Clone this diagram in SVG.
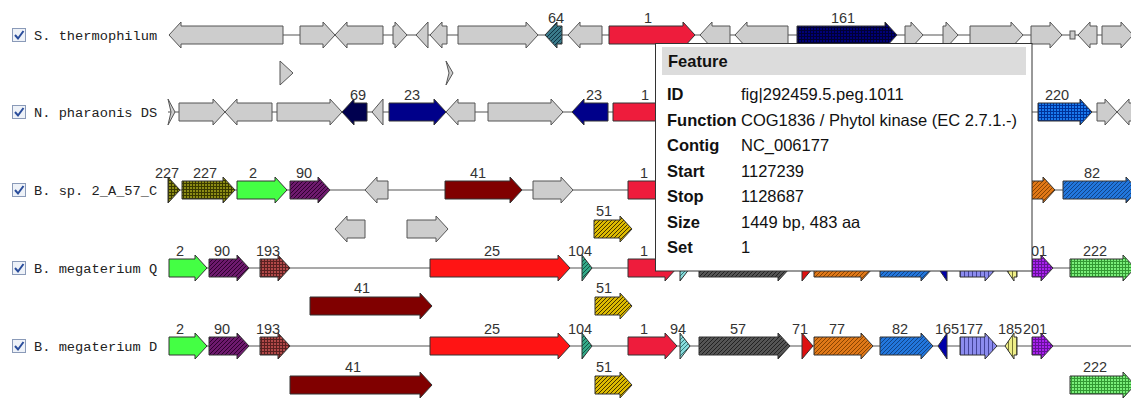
<svg xmlns="http://www.w3.org/2000/svg" width="1131" height="411" viewBox="0 0 1131 411">
<style>
.bg{fill:#fff}
.ln{stroke:#555;stroke-width:1.2;fill:none}
polygon,.box{stroke:#333;stroke-width:1;stroke-linejoin:miter}
.g{fill:#cdcdcd;stroke:#555}
.green{fill:#44ff44}
.dred{fill:#800000}
.red{fill:#ff1414}
.crim{fill:#ee1c3c}
.r71{fill:#dd1010}
.n165{fill:#0000aa}
.n69{fill:#00004f}
.n23{fill:#00008a}
.lab{font-family:"Liberation Sans",Arial,sans-serif;font-size:14.5px;fill:#333;text-anchor:middle}
.row{font-family:"Liberation Mono","DejaVu Sans Mono",monospace;font-size:13.7px;fill:#222}
.tt{font-family:"Liberation Sans",Arial,sans-serif;font-size:16.5px;fill:#111}
.ttb{font-weight:bold}
.cb{fill:#eef2f8;stroke:#8a9ab8;stroke-width:1}
.ck{fill:none;stroke:#2a4d9b;stroke-width:2}
</style>
<defs>
<pattern id="p227" patternUnits="userSpaceOnUse" width="3" height="3"><rect width="3" height="3" fill="#8c8c14"/><path d="M0,0.5H3M0.5,0V3" stroke="#3a3a00" stroke-width="1"/></pattern>
<pattern id="p90" patternUnits="userSpaceOnUse" width="4" height="4"><rect width="4" height="4" fill="#6e1a6e"/><path d="M-1,1L1,-1M0,4L4,0M3,5L5,3" stroke="#2e002e" stroke-width="1"/></pattern>
<pattern id="p193" patternUnits="userSpaceOnUse" width="3" height="3"><rect width="3" height="3" fill="#b04848"/><path d="M0,0.5H3M0.5,0V3" stroke="#5a2020" stroke-width="1"/></pattern>
<pattern id="p104" patternUnits="userSpaceOnUse" width="4" height="4"><rect width="4" height="4" fill="#33aa88"/><path d="M-1,1L1,-1M0,4L4,0M3,5L5,3" stroke="#115544" stroke-width="1"/></pattern>
<pattern id="p94" patternUnits="userSpaceOnUse" width="4" height="4"><rect width="4" height="4" fill="#88dddd"/><path d="M-1,1L1,-1M0,4L4,0M3,5L5,3" stroke="#337777" stroke-width="1"/></pattern>
<pattern id="p57" patternUnits="userSpaceOnUse" width="4" height="4"><rect width="4" height="4" fill="#555"/><path d="M-1,1L1,-1M0,4L4,0M3,5L5,3" stroke="#222" stroke-width="1"/></pattern>
<pattern id="p77" patternUnits="userSpaceOnUse" width="4" height="4"><rect width="4" height="4" fill="#e07818"/><path d="M-1,1L1,-1M0,4L4,0M3,5L5,3" stroke="#8a4400" stroke-width="1"/></pattern>
<pattern id="p82" patternUnits="userSpaceOnUse" width="4" height="4"><rect width="4" height="4" fill="#2277dd"/><path d="M-1,1L1,-1M0,4L4,0M3,5L5,3" stroke="#114488" stroke-width="1"/></pattern>
<pattern id="p177" patternUnits="userSpaceOnUse" width="4" height="4"><rect width="4" height="4" fill="#8c8cee"/><path d="M0.5,0V4" stroke="#444499" stroke-width="1"/></pattern>
<pattern id="p185" patternUnits="userSpaceOnUse" width="4" height="4"><rect width="4" height="4" fill="#eeee88"/><path d="M0.5,0V4" stroke="#777733" stroke-width="1"/></pattern>
<pattern id="p201" patternUnits="userSpaceOnUse" width="3" height="3"><rect width="3" height="3" fill="#aa22ee"/><path d="M0,0.5H3M0.5,0V3" stroke="#661199" stroke-width="1"/></pattern>
<pattern id="p222" patternUnits="userSpaceOnUse" width="3" height="3"><rect width="3" height="3" fill="#7aee7a"/><path d="M0,0.5H3M0.5,0V3" stroke="#339933" stroke-width="1"/></pattern>
<pattern id="p51" patternUnits="userSpaceOnUse" width="4" height="4"><rect width="4" height="4" fill="#ddbb00"/><path d="M-1,1L1,-1M0,4L4,0M3,5L5,3" stroke="#443300" stroke-width="1"/></pattern>
<pattern id="p161" patternUnits="userSpaceOnUse" width="3" height="3"><rect width="3" height="3" fill="#000077"/><path d="M0,0.5H3M0.5,0V3" stroke="#000033" stroke-width="1"/></pattern>
<pattern id="p220" patternUnits="userSpaceOnUse" width="3" height="3"><rect width="3" height="3" fill="#1a7aee"/><path d="M0,0.5H3M0.5,0V3" stroke="#003399" stroke-width="1"/></pattern>
<pattern id="p64" patternUnits="userSpaceOnUse" width="4" height="4"><rect width="4" height="4" fill="#3a7a8a"/><path d="M-1,1L1,-1M0,4L4,0M3,5L5,3" stroke="#113344" stroke-width="1"/></pattern>
</defs>
<rect class="bg" width="1131" height="411"/>

<g id="connectors">
<path class="ln" d="M169,35H1131M168,112H1131M168,190H1131M169,268H1131M169,346H1131"/>
</g>

<g id="labels">
<rect class="cb" x="12.5" y="28.5" width="13" height="13"/><path class="ck" d="M15,35l3,3.5l5.5,-7.5"/>
<text class="row" x="34" y="40">S. thermophilum</text>
<rect class="cb" x="12.5" y="105.5" width="13" height="13"/><path class="ck" d="M15,112l3,3.5l5.5,-7.5"/>
<text class="row" x="34" y="117">N. pharaonis DS</text>
<rect class="cb" x="12.5" y="183.5" width="13" height="13"/><path class="ck" d="M15,190l3,3.5l5.5,-7.5"/>
<text class="row" x="34" y="195">B. sp. 2_A_57_C</text>
<rect class="cb" x="12.5" y="261.5" width="13" height="13"/><path class="ck" d="M15,268l3,3.5l5.5,-7.5"/>
<text class="row" x="34" y="273">B. megaterium Q</text>
<rect class="cb" x="12.5" y="339.5" width="13" height="13"/><path class="ck" d="M15,346l3,3.5l5.5,-7.5"/>
<text class="row" x="34" y="351">B. megaterium D</text>
</g>

<g id="row1">
<polygon class="g" points="169,35 181,22 181,26 283,26 283,44 181,44 181,48"/>
<polygon class="g" points="300,26 323,26 323,22 335,35 323,48 323,44 300,44"/>
<polygon class="g" points="335,35 347,22 347,26 383,26 383,44 347,44 347,48"/>
<polygon class="g" points="393,26 395,26 395,22 407,35 395,48 395,44 393,44"/>
<polygon class="g" points="416,35 428,22 428,48"/>
<polygon class="g" points="430,35 442,22 442,26 447,26 447,44 442,44 442,48"/>
<polygon class="g" points="458,26 526,26 526,22 538,35 526,48 526,44 458,44"/>
<polygon id="r1-64" fill="url(#p64)" points="545,35 557,22 557,26 562,26 562,44 557,44 557,48"/>
<polygon class="g" points="568,35 580,22 580,26 602,26 602,44 580,44 580,48"/>
<polygon id="r1-1" class="crim" points="609,26 683,26 683,22 695,35 683,48 683,44 609,44"/>
<polygon class="g" points="700,35 712,22 712,26 730,26 730,44 712,44 712,48"/>
<polygon class="g" points="735,35 747,22 747,26 788,26 788,44 747,44 747,48"/>
<polygon id="r1-161" fill="url(#p161)" points="797,26 885,26 885,22 897,35 885,48 885,44 797,44"/>
<polygon class="g" points="905,26 911,26 911,22 923,35 911,48 911,44 905,44"/>
<polygon class="g" points="943,26 946,26 946,22 958,35 946,48 946,44 943,44"/>
<polygon class="g" points="970,26 1011,26 1011,22 1023,35 1011,48 1011,44 970,44"/>
<polygon class="g" points="1031,26 1050,26 1050,22 1062,35 1050,48 1050,44 1031,44"/>
<rect class="g box" x="1070" y="31" width="5" height="8"/>
<polygon class="g" points="1078,35 1090,22 1090,26 1097,26 1097,44 1090,44 1090,48"/>
<polygon class="g" points="1102,26 1121,26 1121,22 1133,35 1121,48 1121,44 1102,44"/>
<text class="lab" x="556" y="23">64</text>
<text class="lab" x="648" y="23">1</text>
<text class="lab" x="843" y="23">161</text>
<polygon class="g" points="280,61 293,73 280,85"/>
<polygon class="g" points="446,61 453,73 446,85 449,73"/>
</g>

<g id="row2">
<polygon class="g" points="168,99 175,112 168,125 171,112"/>
<polygon class="g" points="179,103 213,103 213,99 225,112 213,125 213,121 179,121"/>
<polygon class="g" points="225,112 237,99 237,103 272,103 272,121 237,121 237,125"/>
<polygon class="g" points="277,103 330,103 330,99 342,112 330,125 330,121 277,121"/>
<polygon id="r2-69" class="n69" points="342,112 354,99 354,103 367,103 367,121 354,121 354,125"/>
<polygon class="g" points="372,112 383,99 383,125"/>
<polygon id="r2-23a" class="n23" points="389,103 434,103 434,99 446,112 434,125 434,121 389,121"/>
<polygon class="g" points="446,112 458,99 458,103 475,103 475,121 458,121 458,125"/>
<polygon class="g" points="488,103 551,103 551,99 563,112 551,125 551,121 488,121"/>
<polygon id="r2-23b" class="n23" points="572,112 584,99 584,103 608,103 608,121 584,121 584,125"/>
<polygon id="r2-1" class="crim" points="613,103 688,103 688,99 700,112 688,125 688,121 613,121"/>
<polygon id="r2-220" fill="url(#p220)" points="1038,103 1080,103 1080,99 1092,112 1080,125 1080,121 1038,121"/>
<polygon class="g" points="1097,103 1105,103 1105,99 1117,112 1105,125 1105,121 1097,121"/>
<polygon class="g" points="1117,112 1129,99 1129,103 1140,103 1140,121 1129,121 1129,125"/>
<text class="lab" x="358" y="100">69</text>
<text class="lab" x="412" y="100">23</text>
<text class="lab" x="594" y="100">23</text>
<text class="lab" x="645" y="100">1</text>
<text class="lab" x="1057" y="100">220</text>
</g>

<g id="row3">
<polygon id="r3-227a" fill="url(#p227)" points="168,177 180,190 168,203"/>
<polygon id="r3-227b" fill="url(#p227)" points="182,181 223,181 223,177 235,190 223,203 223,199 182,199"/>
<polygon id="r3-2" class="green" points="237,181 275,181 275,177 287,190 275,203 275,199 237,199"/>
<polygon id="r3-90" fill="url(#p90)" points="290,181 318,181 318,177 330,190 318,203 318,199 290,199"/>
<polygon class="g" points="365,190 377,177 377,181 388,181 388,199 377,199 377,203"/>
<polygon id="r3-41" class="dred" points="445,181 510,181 510,177 522,190 510,203 510,199 445,199"/>
<polygon class="g" points="533,181 561,181 561,177 573,190 561,203 561,199 533,199"/>
<polygon id="r3-1" class="crim" points="628,181 688,181 688,177 700,190 688,203 688,199 628,199"/>
<polygon id="r3-77" fill="url(#p77)" points="990,181 1043,181 1043,177 1055,190 1043,203 1043,199 990,199"/>
<polygon id="r3-82" fill="url(#p82)" points="1063,181 1126,181 1126,177 1138,190 1126,203 1126,199 1063,199"/>
<text class="lab" x="167" y="178">227</text>
<text class="lab" x="205" y="178">227</text>
<text class="lab" x="253" y="178">2</text>
<text class="lab" x="304" y="178">90</text>
<text class="lab" x="478" y="178">41</text>
<text class="lab" x="644" y="178">1</text>
<text class="lab" x="1092" y="178">82</text>
<polygon class="g" points="335,229 347,216 347,220 365,220 365,238 347,238 347,242"/>
<polygon class="g" points="407,220 436,220 436,216 448,229 436,242 436,238 407,238"/>
<polygon id="r3-51" fill="url(#p51)" points="594,220 620,220 620,216 632,229 620,242 620,238 594,238"/>
<text class="lab" x="604" y="216">51</text>
</g>

<g id="row4">
<polygon class="green" points="169,259 195,259 195,255 207,268 195,281 195,277 169,277"/>
<polygon fill="url(#p90)" points="209,259 237,259 237,255 249,268 237,281 237,277 209,277"/>
<polygon fill="url(#p193)" points="260,259 278,259 278,255 290,268 278,281 278,277 260,277"/>
<polygon class="red" points="430,259 558,259 558,255 570,268 558,281 558,277 430,277"/>
<polygon fill="url(#p104)" points="582,255 592,268 582,281"/>
<polygon class="crim" points="628,259 665,259 665,255 677,268 665,281 665,277 628,277"/>
<polygon fill="url(#p94)" points="680,255 690,268 680,281"/>
<polygon fill="url(#p57)" points="699,259 778,259 778,255 790,268 778,281 778,277 699,277"/>
<polygon class="r71" points="802,255 813,268 802,281"/>
<polygon fill="url(#p77)" points="814,259 861,259 861,255 873,268 861,281 861,277 814,277"/>
<polygon fill="url(#p82)" points="880,259 921,259 921,255 933,268 921,281 921,277 880,277"/>
<polygon class="n165" points="938,268 947,255 947,281"/>
<polygon fill="url(#p177)" points="960,259 985,259 985,255 997,268 985,281 985,277 960,277"/>
<polygon fill="url(#p185)" points="1005,268 1014,255 1014,259 1017,259 1017,277 1014,277 1014,281"/>
<polygon fill="url(#p201)" points="1032,259 1041,259 1041,255 1053,268 1041,281 1041,277 1032,277"/>
<polygon fill="url(#p222)" points="1070,259 1123,259 1123,255 1135,268 1123,281 1123,277 1070,277"/>
<text class="lab" x="180" y="256">2</text>
<text class="lab" x="222" y="256">90</text>
<text class="lab" x="268" y="256">193</text>
<text class="lab" x="492" y="256">25</text>
<text class="lab" x="580" y="256">104</text>
<text class="lab" x="644" y="256">1</text>
<text class="lab" x="1035" y="256">201</text>
<text class="lab" x="1095" y="256">222</text>
<polygon class="dred" points="310,297 420,297 420,293 432,306 420,319 420,315 310,315"/>
<polygon fill="url(#p51)" points="595,297 620,297 620,293 632,306 620,319 620,315 595,315"/>
<text class="lab" x="362" y="293">41</text>
<text class="lab" x="604" y="293">51</text>
</g>

<g id="row5">
<polygon class="green" points="169,337 195,337 195,333 207,346 195,359 195,355 169,355"/>
<polygon fill="url(#p90)" points="209,337 237,337 237,333 249,346 237,359 237,355 209,355"/>
<polygon fill="url(#p193)" points="260,337 278,337 278,333 290,346 278,359 278,355 260,355"/>
<polygon class="red" points="430,337 558,337 558,333 570,346 558,359 558,355 430,355"/>
<polygon fill="url(#p104)" points="582,333 592,346 582,359"/>
<polygon class="crim" points="628,337 665,337 665,333 677,346 665,359 665,355 628,355"/>
<polygon fill="url(#p94)" points="680,333 690,346 680,359"/>
<polygon fill="url(#p57)" points="699,337 778,337 778,333 790,346 778,359 778,355 699,355"/>
<polygon class="r71" points="802,333 813,346 802,359"/>
<polygon fill="url(#p77)" points="814,337 861,337 861,333 873,346 861,359 861,355 814,355"/>
<polygon fill="url(#p82)" points="880,337 921,337 921,333 933,346 921,359 921,355 880,355"/>
<polygon class="n165" points="938,346 947,333 947,359"/>
<polygon fill="url(#p177)" points="960,337 985,337 985,333 997,346 985,359 985,355 960,355"/>
<polygon fill="url(#p185)" points="1005,346 1014,333 1014,337 1017,337 1017,355 1014,355 1014,359"/>
<polygon fill="url(#p201)" points="1032,337 1041,337 1041,333 1053,346 1041,359 1041,355 1032,355"/>
<text class="lab" x="180" y="334">2</text>
<text class="lab" x="222" y="334">90</text>
<text class="lab" x="268" y="334">193</text>
<text class="lab" x="492" y="334">25</text>
<text class="lab" x="580" y="334">104</text>
<text class="lab" x="644" y="334">1</text>
<text class="lab" x="678" y="334">94</text>
<text class="lab" x="738" y="334">57</text>
<text class="lab" x="800" y="334">71</text>
<text class="lab" x="837" y="334">77</text>
<text class="lab" x="900" y="334">82</text>
<text class="lab" x="947" y="334">165</text>
<text class="lab" x="971" y="334">177</text>
<text class="lab" x="1010" y="334">185</text>
<text class="lab" x="1035" y="334">201</text>
<polygon class="dred" points="290,376 420,376 420,372 432,385 420,398 420,394 290,394"/>
<polygon fill="url(#p51)" points="595,376 620,376 620,372 632,385 620,398 620,394 595,394"/>
<polygon fill="url(#p222)" points="1070,376 1123,376 1123,372 1135,385 1123,398 1123,394 1070,394"/>
<text class="lab" x="353" y="372">41</text>
<text class="lab" x="604" y="372">51</text>
<text class="lab" x="1095" y="372">222</text>
</g>

<g id="tooltip">
<rect x="655.5" y="43.5" width="376.5" height="227.5" fill="#fff" stroke="#333" stroke-width="1"/>
<rect x="662" y="47" width="364" height="28" fill="#dcdcdc"/>
<text class="tt ttb" x="668" y="67">Feature</text>
<text class="tt ttb" x="667" y="100">ID</text>
<text class="tt" x="741" y="100">fig|292459.5.peg.1011</text>
<text class="tt ttb" x="667" y="125.5">Function</text>
<text class="tt" x="741" y="125.5">COG1836 / Phytol kinase (EC 2.7.1.-)</text>
<text class="tt ttb" x="667" y="151">Contig</text>
<text class="tt" x="741" y="151">NC_006177</text>
<text class="tt ttb" x="667" y="176.5">Start</text>
<text class="tt" x="741" y="176.5">1127239</text>
<text class="tt ttb" x="667" y="202">Stop</text>
<text class="tt" x="741" y="202">1128687</text>
<text class="tt ttb" x="667" y="227.5">Size</text>
<text class="tt" x="741" y="227.5">1449 bp, 483 aa</text>
<text class="tt ttb" x="667" y="253">Set</text>
<text class="tt" x="741" y="253">1</text>
</g>
</svg>
